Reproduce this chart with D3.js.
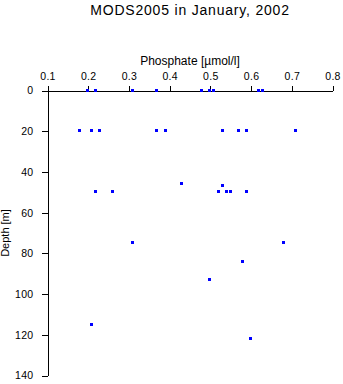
<!DOCTYPE html>
<html>
<head>
<meta charset="utf-8">
<script src="https://cdn.jsdelivr.net/npm/d3@7"></script>
<style>
  html, body { margin: 0; padding: 0; background: #fff; }
  svg { display: block; font-family: "Liberation Sans", Arial, Helvetica, sans-serif; }
</style>
</head>
<body>
<svg id="chart" width="343" height="384"></svg>
<script>
// Phosphate profile samples: concentration (µmol/l) and sampling depth (m)
const phosphate = [
  0.20, 0.22, 0.31, 0.37, 0.48, 0.50, 0.51, 0.62, 0.63,
  0.18, 0.21, 0.23, 0.37, 0.39, 0.53, 0.57, 0.59, 0.71,
  0.43, 0.53,
  0.22, 0.26, 0.52, 0.54, 0.55, 0.59,
  0.31, 0.68,
  0.58,
  0.50,
  0.21,
  0.60
];
const depth = [
  0, 0, 0, 0, 0, 0, 0, 0, 0,
  20, 20, 20, 20, 20, 20, 20, 20, 20,
  46, 47,
  50, 50, 50, 50, 50, 50,
  75, 75,
  84,
  93,
  115,
  122
];
const xTicks = [0.1, 0.2, 0.3, 0.4, 0.5, 0.6, 0.7, 0.8];
const yTicks = [0, 20, 40, 60, 80, 100, 120, 140];

const titleText = "MODS2005 in January, 2002";
const xLabel = "Phosphate [\u00b5mol/l]";
const yLabel = "Depth [m]";

const svg = d3.select("#chart");

const x = d3.scaleLinear().domain([0.1, 0.8]).range([47.5, 332.5]);
const y = d3.scaleLinear().domain([0, 140]).range([90.5, 375.5]);

// Title
svg.append("text")
  .attr("x", 190).attr("y", 15)
  .attr("text-anchor", "middle")
  .attr("font-size", 14)
  .attr("letter-spacing", 0.8)
  .text(titleText);

// Phosphate axis along the top
const gx = svg.append("g")
  .attr("transform", `translate(0,${y(0)})`)
  .call(d3.axisTop(x).tickValues(xTicks).tickFormat(d3.format(".1f"))
    .tickSize(5).tickSizeOuter(0).tickPadding(6));

// Depth axis on the left, increasing downward
const gy = svg.append("g")
  .attr("transform", `translate(${x(0.1)},0)`)
  .call(d3.axisLeft(y).tickValues(yTicks).tickFormat(d3.format("d"))
    .tickSize(6).tickSizeOuter(0).tickPadding(8));

[gx, gy].forEach(g => {
  g.selectAll("path, line").attr("stroke", "#000").attr("stroke-width", 1)
    .attr("shape-rendering", "crispEdges");
  g.selectAll("text").attr("font-size", 10.5).attr("fill", "#000")
    .attr("letter-spacing", 0.3)
    .attr("font-family", "\"Liberation Sans\", Arial, Helvetica, sans-serif");
});

// Axis titles
svg.append("text")
  .attr("x", 190).attr("y", 65)
  .attr("text-anchor", "middle")
  .attr("font-size", 12)
  .text(xLabel);

svg.append("text")
  .attr("transform", `translate(9,${(y(0) + y(140)) / 2}) rotate(-90)`)
  .attr("text-anchor", "middle")
  .attr("font-size", 11)
  .text(yLabel);

// Sample markers
const pts = phosphate.map((p, i) => ({ p, d: depth[i] }));
svg.append("g")
  .selectAll("rect")
  .data(pts)
  .join("rect")
  .attr("x", d => Math.round(x(d.p)) - 2)
  .attr("y", d => Math.round(y(d.d)) - 2)
  .attr("width", 3)
  .attr("height", 3)
  .attr("fill", "#0000ff")
  .attr("shape-rendering", "crispEdges");
</script>
</body>
</html>
